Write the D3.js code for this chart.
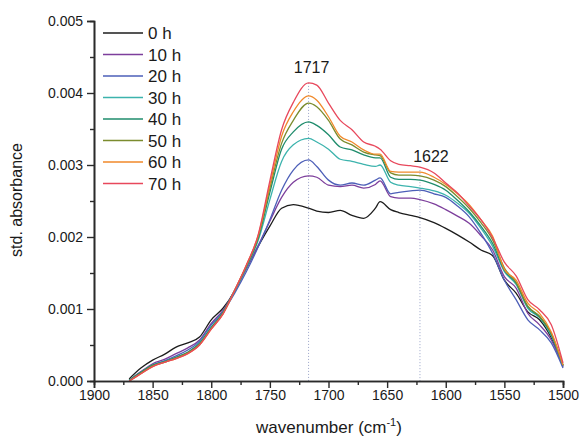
<!DOCTYPE html>
<html>
<head>
<meta charset="utf-8">
<script src="https://cdn.jsdelivr.net/npm/d3@7"></script>
<style>
  body { margin: 0; background: #fff; }
  text { font-family: "Liberation Sans", Arial, sans-serif; fill: #1a1a1a; }
</style>
</head>
<body>
<div id="graph"></div>
<script>
// wavenumbers (cm-1) where the spectra were read
var wavenumbers = [1870,1860,1850,1840,1830,1820,1810,1800,1790,1780,1770,1760,1750,1740,1730,1717,1710,1700,1690,1680,1670,1660,1656,1647,1640,1630,1622,1610,1600,1590,1580,1570,1560,1550,1540,1530,1520,1510,1500];

var h0  = [0.00003,0.00018,0.00029,0.00037,0.00047,0.00053,0.00061,0.00085,0.00101,0.00125,0.00157,0.00187,0.00215,0.00240,0.00245,0.00240,0.00236,0.00234,0.00237,0.00230,0.00226,0.00240,0.00249,0.00238,0.00234,0.00230,0.00227,0.00220,0.00212,0.00203,0.00193,0.00182,0.00174,0.00140,0.00122,0.00096,0.00085,0.00060,0.00020];
var h10 = [0.00001,0.00013,0.00024,0.00030,0.00038,0.00046,0.00057,0.00080,0.00098,0.00126,0.00156,0.00188,0.00222,0.00255,0.00276,0.00285,0.00283,0.00272,0.00270,0.00272,0.00268,0.00273,0.00278,0.00256,0.00254,0.00254,0.00252,0.00246,0.00238,0.00229,0.00219,0.00202,0.00182,0.00145,0.00129,0.00094,0.00078,0.00057,0.00020];
var h20 = [0.00000,0.00012,0.00022,0.00028,0.00035,0.00043,0.00055,0.00078,0.00096,0.00122,0.00152,0.00186,0.00224,0.00265,0.00293,0.00307,0.00298,0.00279,0.00272,0.00275,0.00272,0.00279,0.00282,0.00260,0.00262,0.00264,0.00265,0.00260,0.00255,0.00243,0.00228,0.00205,0.00177,0.00140,0.00113,0.00085,0.00071,0.00053,0.00018];
var h30 = [0.00001,0.00012,0.00022,0.00027,0.00033,0.00040,0.00053,0.00075,0.00095,0.00125,0.00158,0.00195,0.00252,0.00305,0.00328,0.00337,0.00332,0.00322,0.00308,0.00305,0.00301,0.00298,0.00300,0.00276,0.00272,0.00270,0.00268,0.00264,0.00258,0.00247,0.00233,0.00212,0.00187,0.00152,0.00134,0.00101,0.00088,0.00063,0.00022];
var h40 = [0.00001,0.00012,0.00022,0.00027,0.00033,0.00040,0.00052,0.00074,0.00095,0.00126,0.00159,0.00198,0.00262,0.00322,0.00346,0.00360,0.00355,0.00342,0.00325,0.00321,0.00314,0.00310,0.00310,0.00283,0.00280,0.00280,0.00279,0.00273,0.00265,0.00251,0.00235,0.00215,0.00191,0.00154,0.00136,0.00103,0.00089,0.00065,0.00022];
var h50 = [0.00000,0.00011,0.00021,0.00026,0.00032,0.00039,0.00051,0.00073,0.00094,0.00126,0.00160,0.00200,0.00268,0.00330,0.00362,0.00386,0.00381,0.00362,0.00336,0.00328,0.00318,0.00314,0.00313,0.00289,0.00286,0.00286,0.00285,0.00279,0.00270,0.00256,0.00240,0.00220,0.00196,0.00157,0.00137,0.00104,0.00090,0.00066,0.00022];
var h60 = [0.00000,0.00010,0.00020,0.00026,0.00031,0.00038,0.00050,0.00072,0.00093,0.00126,0.00161,0.00202,0.00272,0.00340,0.00374,0.00396,0.00390,0.00367,0.00340,0.00332,0.00321,0.00315,0.00315,0.00291,0.00290,0.00290,0.00290,0.00283,0.00273,0.00260,0.00245,0.00224,0.00201,0.00155,0.00140,0.00108,0.00094,0.00068,0.00022];
var h70 = [0.00000,0.00010,0.00020,0.00026,0.00031,0.00038,0.00050,0.00072,0.00093,0.00126,0.00161,0.00203,0.00278,0.00349,0.00387,0.00414,0.00411,0.00386,0.00362,0.00349,0.00332,0.00326,0.00322,0.00306,0.00301,0.00299,0.00297,0.00289,0.00275,0.00261,0.00243,0.00224,0.00199,0.00165,0.00146,0.00113,0.00099,0.00078,0.00025];

var seriesNames = ["0 h","10 h","20 h","30 h","40 h","50 h","60 h","70 h"];
var seriesValues = [h0,h10,h20,h30,h40,h50,h60,h70];
var seriesColors = ["#1c1c1c","#7d3f9c","#4d5fb8","#3cb3ad","#1f8c6c","#7b8c2e","#f0892a","#e8485c"];

var xTicks = [1900,1850,1800,1750,1700,1650,1600,1550,1500];
var yTicks = [0.000,0.001,0.002,0.003,0.004,0.005];
var markers = [1717, 1622];

var width = 583, height = 436;
var margin = {left: 94, right: 20, top: 21, bottom: 55};

var svg = d3.select("#graph").append("svg")
    .attr("width", width)
    .attr("height", height);

var xScale = d3.scaleLinear().domain([1900, 1500]).range([margin.left, 563]);
var yScale = d3.scaleLinear().domain([0, 0.005]).range([381, margin.top]);

// dotted marker lines
var peakOf = function(w){
    var i = wavenumbers.indexOf(w);
    return d3.max(seriesValues, function(s){ return s[i]; });
};
svg.selectAll(".marker")
    .data(markers)
    .enter().append("line")
    .attr("x1", function(d){ return xScale(d); })
    .attr("x2", function(d){ return xScale(d); })
    .attr("y1", function(d){ return yScale(peakOf(d)); })
    .attr("y2", yScale(0))
    .attr("stroke", "#9aa3c8")
    .attr("stroke-width", 1)
    .attr("stroke-dasharray", "1,2");

svg.append("text").attr("x", xScale(1717) + 3).attr("y", 73)
    .attr("text-anchor", "middle").style("font-size", "16px").text("1717");
svg.append("text").attr("x", xScale(1622) + 11).attr("y", 162)
    .attr("text-anchor", "middle").style("font-size", "16px").text("1622");

// spectra
var line = d3.line()
    .x(function(d, i){ return xScale(wavenumbers[i]); })
    .y(function(d){ return yScale(d); })
    .curve(d3.curveMonotoneX);

svg.selectAll(".spectrum")
    .data(seriesValues)
    .enter().append("path")
    .attr("class", "spectrum")
    .attr("fill", "none")
    .attr("stroke", function(d, i){ return seriesColors[i]; })
    .attr("stroke-width", 1.3)
    .attr("d", line);

// axes
var xAxis = d3.axisBottom(xScale).tickValues(xTicks).tickSize(7).tickFormat(d3.format("d"));
var xMinor = d3.axisBottom(xScale).tickValues(d3.range(1875, 1500, -50)).tickSize(4).tickFormat("");
var yAxis = d3.axisLeft(yScale).tickValues(yTicks).tickSize(7).tickFormat(d3.format(".3f"));
var yMinor = d3.axisLeft(yScale).tickValues([0.0005,0.0015,0.0025,0.0035,0.0045]).tickSize(4).tickFormat("");

var gx = svg.append("g").attr("transform", "translate(0,381)").call(xAxis);
svg.append("g").attr("transform", "translate(0,381)").call(xMinor);
var gy = svg.append("g").attr("transform", "translate(94,0)").call(yAxis);
svg.append("g").attr("transform", "translate(94,0)").call(yMinor);

svg.selectAll(".domain").attr("stroke", "#2a2a2a").attr("stroke-width", 1.6);
svg.selectAll(".tick line").attr("stroke", "#2a2a2a").attr("stroke-width", 1.4);
gx.selectAll("text").style("font-size", "14px").attr("dy", "0.78em").attr("y", 8);
gy.selectAll("text").style("font-size", "14px").attr("x", -11);

svg.append("text")
    .attr("x", 329).attr("y", 433)
    .attr("text-anchor", "middle")
    .style("font-size", "17px")
    .html('wavenumber (cm<tspan dy="-7" style="font-size:11px">-1</tspan><tspan dy="7">)</tspan>');

svg.append("text")
    .attr("transform", "translate(22,200) rotate(-90)")
    .attr("text-anchor", "middle")
    .style("font-size", "16px")
    .text("std. absorbance");

// legend
var legend = svg.selectAll(".legend")
    .data(seriesNames)
    .enter().append("g")
    .attr("transform", function(d, i){ return "translate(103," + (33 + i * 21.5) + ")"; });

legend.append("line")
    .attr("x1", 0).attr("x2", 40)
    .attr("stroke", function(d, i){ return seriesColors[i]; })
    .attr("stroke-width", 1.6);

legend.append("text")
    .attr("x", 45).attr("y", 6)
    .style("font-size", "17px")
    .text(function(d){ return d; });
</script>
</body>
</html>
